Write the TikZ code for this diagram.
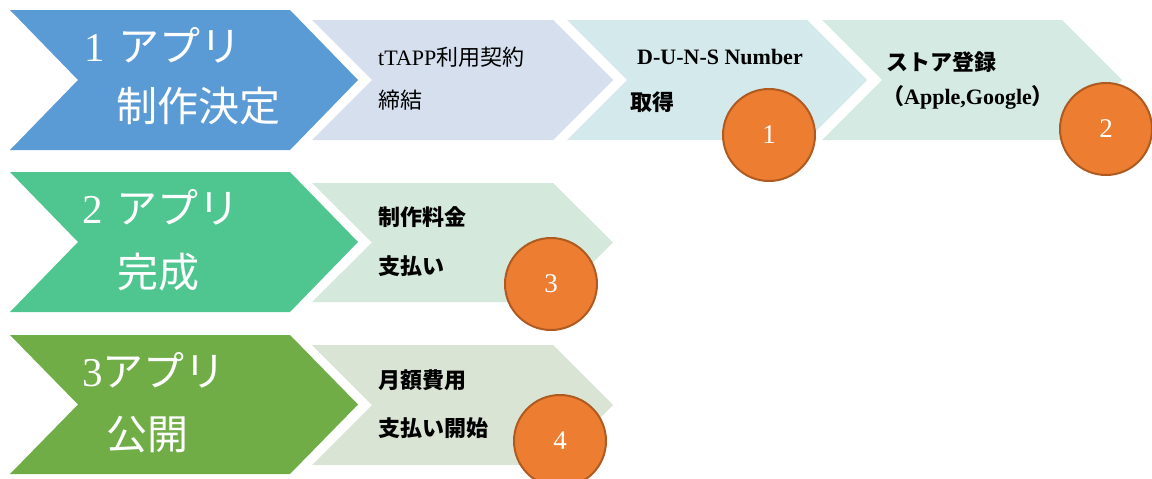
\documentclass[tikz,border=0pt]{standalone}
\usepackage{fontspec}
\setmainfont{Liberation Serif}
\newfontfamily\jp{Noto Sans CJK JP}
\definecolor{cblue}{HTML}{5B9BD5}
\definecolor{cteal}{HTML}{4FC690}
\definecolor{cgreen}{HTML}{70AD47}
\definecolor{bxa}{HTML}{D5DFEE}
\definecolor{bxb}{HTML}{D4E9EC}
\definecolor{bxc}{HTML}{D4EAE2}
\definecolor{bxd}{HTML}{D4E8DC}
\definecolor{bxe}{HTML}{D9E4D4}
\definecolor{corange}{HTML}{ED7D31}
\definecolor{cbrown}{HTML}{AE5A21}
% chevron: #1 left x, #2 top y, #3 bottom y, #4 depth, #5 top-right x, #6 colour
\newcommand\chev[6]{\fill[#6] (#1,#2) -- (#5,#2) -- ({#5+#4},{(#2+#3)/2}) -- (#5,#3) -- (#1,#3) -- ({#1+#4},{(#2+#3)/2}) -- cycle;}
\tikzset{
  big/.style={anchor=west, text=white, font=\fontsize{41}{41}\selectfont, inner sep=0pt},
  small/.style={anchor=west, text=black, font=\fontsize{22}{22}\selectfont, inner sep=0pt},
  smallb/.style={small, font=\fontsize{22}{22}\selectfont\bfseries},
  num/.style={circle, fill=corange, draw=cbrown, line width=2pt, minimum size=92pt, inner sep=0pt, text=white, font=\fontsize{27}{27}\selectfont}
}
\begin{document}
\begin{tikzpicture}[x=1pt,y=-1pt]
\useasboundingbox (0,0) rectangle (1152,479);
% row 1
\chev{10}{10}{150}{68}{290}{cblue}
\chev{312}{20}{140}{60}{553}{bxa}
\chev{567}{20}{140}{60}{807}{bxb}
\chev{822}{20}{140}{60}{1062}{bxc}
% row 2
\chev{10}{172}{312}{68}{290}{cteal}
\chev{312}{183}{302}{60}{553}{bxd}
% row 3
\chev{10}{335}{474}{68}{290}{cgreen}
\chev{312}{345}{465}{60}{553}{bxe}
% big texts
\node[big] (t1a) at (84,45) {1\hspace{14pt}{\jp アプリ}};
\node[big] (t1b) at (116,106) {\jp 制作決定};
\node[big] (t2a) at (82,207) {2\hspace{14pt}{\jp アプリ}};
\node[big] (t2b) at (117,272) {\jp 完成};
\node[big] (t3a) at (82,370) {3{\jp アプリ}};
\node[big] (t3b) at (106,435) {\jp 公開};
% small texts
\node[small] (s1a) at (378,57) {tTAPP{\jp 利用契約}};
\node[small] (s1b) at (378,100) {\jp 締結};
\node[smallb] (s2a) at (637,57) {D-U-N-S Number};
\node[smallb] (s2b) at (630,102) {\jp\bfseries 取得};
\node[smallb] (s3a) at (886,62) {\jp\bfseries ストア登録};
\node[smallb] (s3b) at (882,97) {{\jp\bfseries （}Apple,Google{\jp\bfseries ）}};
\node[smallb] (s4a) at (378,217) {\jp\bfseries 制作料金};
\node[smallb] (s4b) at (378,266) {\jp\bfseries 支払い};
\node[smallb] (s5a) at (378,380) {\jp\bfseries 月額費用};
\node[smallb] (s5b) at (378,428) {\jp\bfseries 支払い開始};
% circles
\node[num] (c1) at (769,135) {1};
\node[num] (c2) at (1106,129) {2};
\node[num] (c3) at (551,284) {3};
\node[num] (c4) at (560,441) {4};
\end{tikzpicture}
\end{document}
